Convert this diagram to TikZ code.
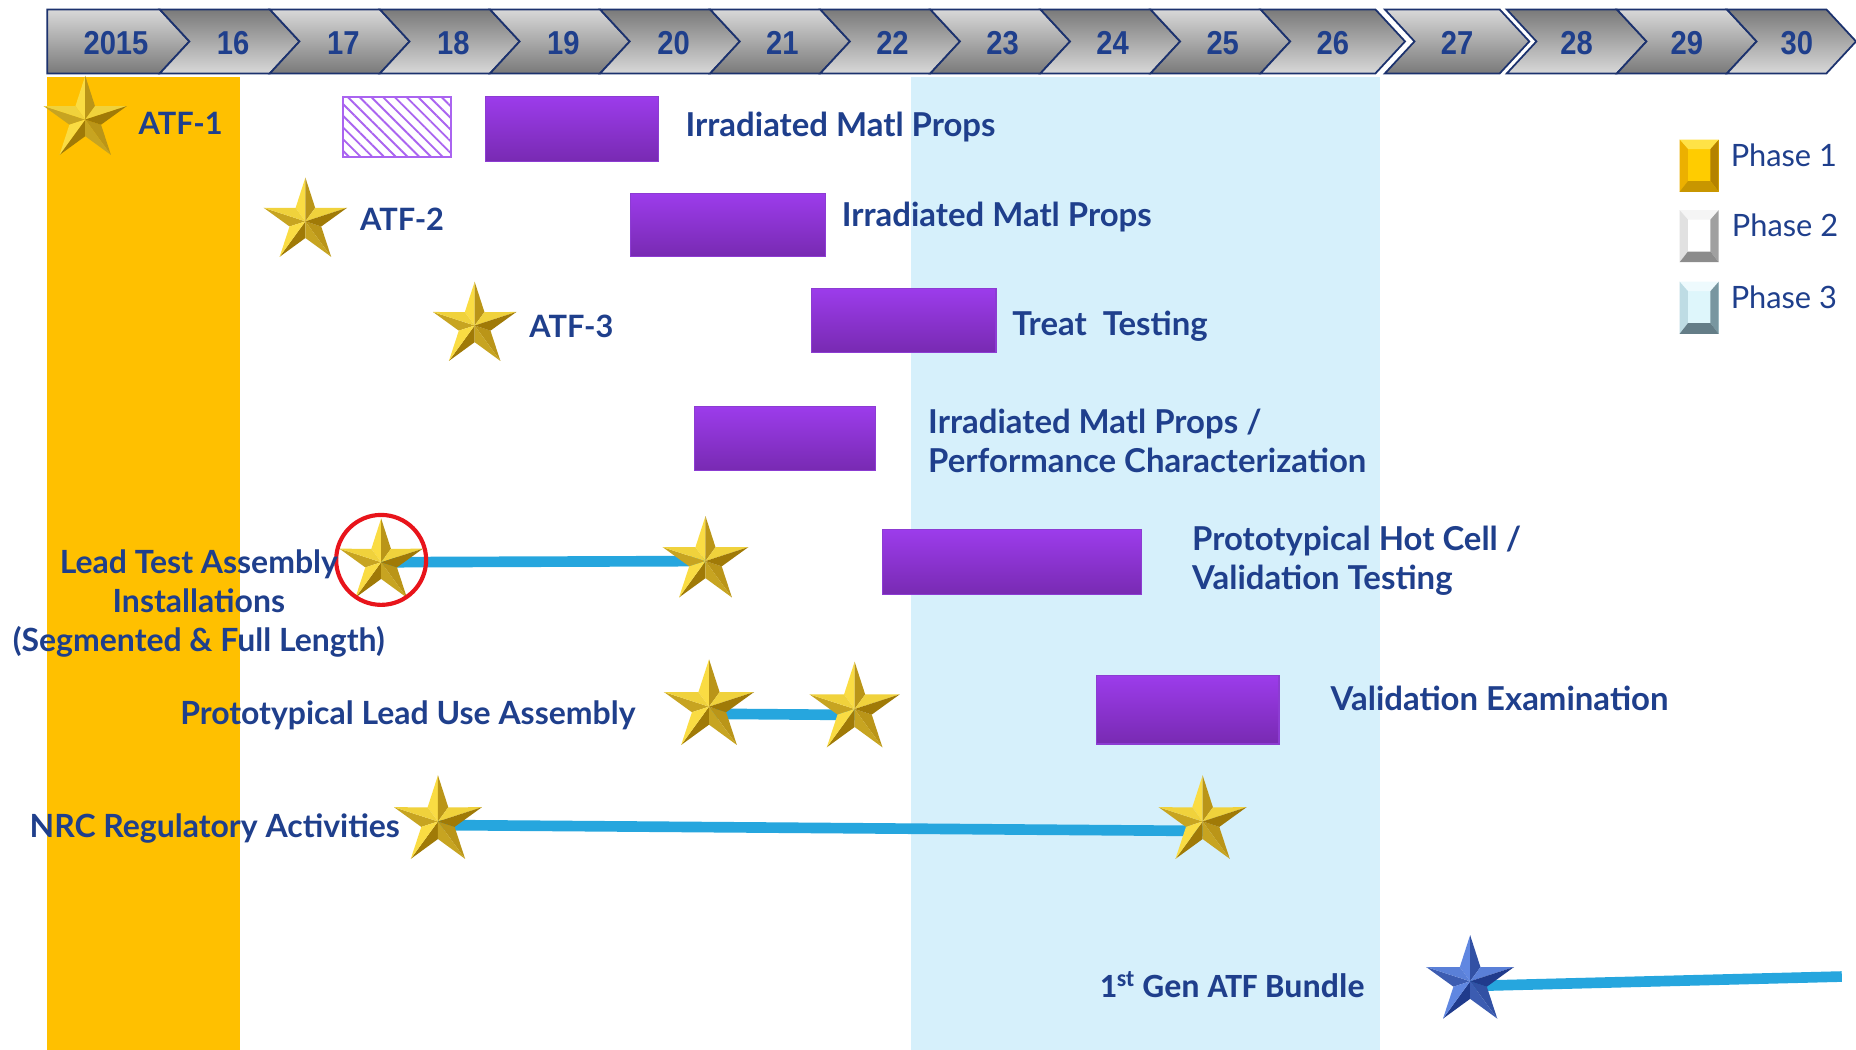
\documentclass[tikz,border=0pt]{standalone}
\usepackage{fontspec}
\setmainfont{Lato}
\newfontfamily\hdrfont{Liberation Sans}[FakeStretch=0.88]
\newfontfamily\calfont{Carlito}
\usetikzlibrary{patterns.meta}
\definecolor{navy}{RGB}{31,63,140}
\definecolor{chevline}{RGB}{28,50,110}
\definecolor{chevL}{RGB}{216,216,216}
\definecolor{chevD}{RGB}{122,122,122}
\definecolor{goldbg}{RGB}{255,192,0}
\definecolor{skybg}{RGB}{214,240,251}
\definecolor{purT}{RGB}{156,60,235}
\definecolor{purB}{RGB}{120,42,178}
\definecolor{purE}{RGB}{140,60,210}
\definecolor{hatchc}{RGB}{170,100,240}
\definecolor{connc}{RGB}{38,166,222}
\definecolor{starhi}{RGB}{255,226,70}
\definecolor{starlo}{RGB}{150,110,0}
\definecolor{bstarhi}{RGB}{100,140,230}
\definecolor{bstarlo}{RGB}{25,50,130}
\definecolor{redc}{RGB}{232,20,27}
% legend colours
\definecolor{g1c}{RGB}{255,204,0}\definecolor{g1t}{RGB}{255,226,70}\definecolor{g1l}{RGB}{236,176,0}\definecolor{g1r}{RGB}{180,130,0}\definecolor{g1b}{RGB}{200,150,0}
\definecolor{w2c}{RGB}{255,255,255}\definecolor{w2t}{RGB}{245,245,245}\definecolor{w2l}{RGB}{225,225,225}\definecolor{w2r}{RGB}{160,160,160}\definecolor{w2b}{RGB}{140,140,140}
\definecolor{c3c}{RGB}{222,246,251}\definecolor{c3t}{RGB}{238,250,253}\definecolor{c3l}{RGB}{190,220,228}\definecolor{c3r}{RGB}{120,150,160}\definecolor{c3b}{RGB}{100,125,135}

\tikzset{
  lbl/.style={font=\bfseries\fontsize{27.8}{33}\selectfont, text=navy, anchor=west, inner sep=0pt, align=left, yshift=-2pt},
  lbls/.style={lbl, font=\bfseries\fontsize{27}{33}\selectfont},
  atf/.style={lbl, font=\bfseries\fontsize{26}{33}\selectfont},
  hdr/.style={font=\hdrfont\bfseries\fontsize{28}{28}\selectfont, text=navy, inner sep=0pt},
  leg/.style={font=\fontsize{26}{26}\selectfont, text=navy, anchor=west, inner sep=0pt},
  bar/.style={top color=purT, bottom color=purB, draw=purE, line width=1pt, anchor=north west, inner sep=0pt},
  conn/.style={draw=connc, line width=9pt},
  pics/star3d/.style n args={3}{code={
    \foreach \i in {0,...,4}{
      \pgfmathsetmacro\ang{90+72*\i}
      \pgfmathsetmacro\sa{int(55+45*cos(\ang+72-135))}
      \pgfmathsetmacro\sb{int(55+45*cos(\ang-72-135))}
      \fill[#1!\sa!#2] (0pt,0pt) -- (\ang:#3) -- (\ang+36:0.38*#3) -- cycle;
      \fill[#1!\sb!#2] (0pt,0pt) -- (\ang:#3) -- (\ang-36:0.38*#3) -- cycle;
    }
  }},
  pics/bevel/.style n args={5}{code={
    \fill[#5] (-16.5,-22) rectangle (16.5,22);
    \fill[#1] (-16.5,-22) -- (16.5,-22) -- (9.5,-14) -- (-9.5,-14) -- cycle;
    \fill[#2] (-16.5,-22) -- (-9.5,-14) -- (-9.5,13) -- (-16.5,22) -- cycle;
    \fill[#3] (16.5,-22) -- (9.5,-14) -- (9.5,13) -- (16.5,22) -- cycle;
    \fill[#4] (-16.5,22) -- (16.5,22) -- (9.5,13) -- (-9.5,13) -- cycle;
  }}
}

\begin{document}
\begin{tikzpicture}[x=1pt,y=-1pt]
\useasboundingbox (0,0) rectangle (1568,887);
\fill[white] (0,0) rectangle (1568,887);
% background bands
\fill[goldbg] (40,65) rectangle (203,887);
\fill[skybg] (770,65) rectangle (1166,887);

% header chevrons
\foreach \L/\R/\lt/\t/\c/\tc/\bc in {
  40/135/0/2015/98/chevL/chevD,
  135/228/25/16/197/chevD/chevL,
  228/321/25/17/290/chevL/chevD,
  321/414/25/18/383/chevD/chevL,
  414/507/25/19/476/chevL/chevD,
  507/600/25/20/569/chevD/chevL,
  600/693/25/21/661/chevL/chevD,
  693/786/25/22/754/chevD/chevL,
  786/879/25/23/847/chevL/chevD,
  879/972/25/24/940/chevD/chevL,
  972/1065/25/25/1033/chevL/chevD,
  1065/1162/25/26/1126/chevD/chevL,
  1170/1267/25/27/1231/chevL/chevD,
  1273/1366/25/28/1332/chevD/chevL,
  1366/1459/25/29/1425/chevL/chevD,
  1459/1543/25/30/1518/chevD/chevL}{
  \shadedraw[top color=\tc, bottom color=\bc, draw=chevline, line width=1.5pt, line join=miter]
    (\L,8) -- (\R,8) -- (\R+25,35) -- (\R,62) -- (\L,62) -- (\L+\lt,35) -- cycle;
  \node[hdr] (y\t) at (\c,36) {\t};
}

% hatched box and bars
\node[draw=hatchc, line width=1.5pt, fill=white, pattern={Lines[angle=-45,distance=7pt,line width=1.6pt]}, pattern color=hatchc, minimum width=91pt, minimum height=51pt, anchor=north west, inner sep=0pt] (h1) at (289,81) {};
\node[bar, minimum width=146pt, minimum height=55pt] (b1) at (410,81) {};
\node[bar, minimum width=165pt, minimum height=53pt] (b2) at (532,163) {};
\node[bar, minimum width=156pt, minimum height=54pt] (b3) at (685,243) {};
\node[bar, minimum width=153pt, minimum height=54pt] (b4) at (586,343) {};
\node[bar, minimum width=219pt, minimum height=55pt] (b5) at (745,447) {};
\node[bar, minimum width=154pt, minimum height=58pt] (b6) at (926,570) {};

% star positions
\coordinate (s1) at (72,101);
\coordinate (s2) at (258,187);
\coordinate (s3) at (401,275);
\coordinate (lta1) at (322,475);
\coordinate (lta2) at (596,474);
\coordinate (pl1) at (599,597);
\coordinate (pl2) at (722,599);
\coordinate (nrc1) at (370,694);
\coordinate (nrc2) at (1016,694);
\coordinate (gb) at (1242,829);
\coordinate (gbend) at (1556,825);

% connectors
\draw[conn] (lta1) -- (lta2);
\draw[conn] ([yshift=-6pt]pl1) -- ([yshift=-5pt]pl2);
\draw[conn] ([yshift=-3pt]nrc1) -- ([yshift=-8pt]nrc2);
\draw[conn] ([yshift=-4pt]gb) -- (gbend);

% stars
\pic at (s1) {star3d={starhi}{starlo}{37pt}};
\pic at (s2) {star3d={starhi}{starlo}{37pt}};
\pic at (s3) {star3d={starhi}{starlo}{37pt}};
\pic at (lta1) {star3d={starhi}{starlo}{37pt}};
\pic at (lta2) {star3d={starhi}{starlo}{38pt}};
\pic at (pl1) {star3d={starhi}{starlo}{40pt}};
\pic at (pl2) {star3d={starhi}{starlo}{40pt}};
\pic at (nrc1) {star3d={starhi}{starlo}{39pt}};
\pic at (nrc2) {star3d={starhi}{starlo}{39pt}};
\pic at (gb) {star3d={bstarhi}{bstarlo}{39pt}};

% red ring
\node[draw=redc, line width=3.5pt, circle, minimum size=76pt, inner sep=0pt] (ring) at (322,473) {};

% labels
\node[atf] (atf1) at (117,102) {ATF-1};
\node[atf] (atf2) at (304,183) {ATF-2};
\node[atf] (atf3) at (447,274) {ATF-3};
\node[lbl] (t1) at (579,105) {Irradiated Matl Props};
\node[lbl] (t2) at (711,181) {Irradiated Matl Props};
\node[lbl] (t3) at (855,274) {Treat\ \ Testing};
\node[lbl] (t4) at (784,370.5) {Irradiated Matl Props /\\Performance Characterization};
\node[lbl] (t5) at (1007,472) {Prototypical Hot Cell /\\Validation Testing};
\node[lbl] (t6) at (1124,588) {Validation Examination};
\node[lbls, anchor=center, align=center] (lta) at (168,508) {Lead Test Assembly\\Installations\\(Segmented \& Full Length)};
\node[lbls, anchor=east] (plua) at (537,602) {Prototypical Lead Use Assembly};
\node[lbls, anchor=east] (nrc) at (338,698) {NRC Regulatory Activities};
\node[font=\calfont\bfseries\fontsize{28.7}{30}\selectfont, text=navy, anchor=east, inner sep=0pt] (gen) at (1153,832) {1\textsuperscript{st} Gen ATF Bundle};

% legend
\pic at (1435.5,140) {bevel={g1t}{g1l}{g1r}{g1b}{g1c}};
\pic at (1435.5,199.5) {bevel={w2t}{w2l}{w2r}{w2b}{w2c}};
\pic at (1435.5,260) {bevel={c3t}{c3l}{c3r}{c3b}{c3c}};
\node[leg] (p1) at (1462,131) {Phase 1};
\node[leg] (p2) at (1463,190) {Phase 2};
\node[leg] (p3) at (1462,251) {Phase 3};
\end{tikzpicture}
\end{document}
